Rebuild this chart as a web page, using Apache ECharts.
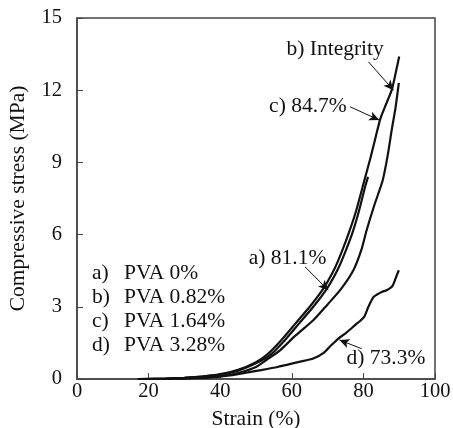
<!DOCTYPE html>
<html>
<head>
<meta charset="utf-8">
<script src="https://cdn.jsdelivr.net/npm/echarts@6/dist/echarts.min.js"></script>
<style>
  html, body { margin: 0; padding: 0; background: #fff; }
  #chart { width: 453px; height: 428px; }
</style>
</head>
<body>
<div id="chart"></div>
<script>
// strain (%) / stress (MPa) pairs
const curveA = [[17,0],[25,0.02],[30,0.05],[35,0.1],[40,0.18],[45,0.35],[50,0.65],[54,1.0],[58,1.6],[62,2.3],[66,3.0],[70,3.8],[73,4.6],[75,5.3],[77,6.1],[78.8,7.0],[80.5,8.0],[81.3,8.4]]
const curveB = [[17,0],[30,0.03],[40,0.12],[45,0.25],[50,0.5],[53,0.8],[56.7,1.19],[61,1.8],[66,2.44],[70,3.1],[73.5,3.69],[77.2,4.52],[79.5,5.4],[80.9,6.18],[83,7.2],[85.4,8.26],[86.8,9.3],[87.9,10.34],[89,11.3],[89.9,12.3]]
const curveC = [[17,0],[25,0.02],[30,0.05],[35,0.1],[40,0.2],[45,0.38],[50,0.7],[53,1.0],[57,1.6],[61,2.3],[65,3.0],[69,3.8],[72,4.6],[74,5.3],[76,6.1],[78,7.0],[80,8.1],[82,9.2],[83.5,10.1],[84.7,10.8],[86,11.3],[87.9,12.0],[89,12.7],[90,13.4]]
const curveD = [[17,0],[30,0.02],[40,0.1],[45,0.2],[51,0.36],[56,0.5],[62,0.71],[66,0.85],[69,1.1],[71,1.4],[73,1.68],[75,1.9],[77,2.15],[78.1,2.3],[79,2.4],[80.3,2.6],[81.4,3.0],[82.8,3.4],[83.7,3.5],[85.1,3.62],[86.5,3.69],[87.9,3.83],[88.4,3.95],[88.8,4.1],[89.3,4.3],[89.9,4.52]]

const legendKeys = ['a)', 'b)', 'c)', 'd)']
const legendNames = ['PVA 0%', 'PVA 0.82%', 'PVA 1.64%', 'PVA 3.28%']

// annotation text, its centre, and the arrow (from -> to), in data units
const notes = [
  { text: 'b) Integrity', at: [72.1, 13.7], from: [81.4, 13.18], to: [88.4, 12.0] },
  { text: 'c) 84.7%', at: [64.5, 11.33], from: [76.3, 11.31], to: [84.4, 10.76] },
  { text: 'a) 81.1%', at: [58.8, 5.0], from: [63.7, 4.66], to: [70.2, 3.69] },
  { text: 'd) 73.3%', at: [86.3, 0.86], from: [79.5, 1.26], to: [73.3, 1.62] }
]

const font = 'Liberation Serif'
const ink = '#111'
const big = 21.5
const chart = echarts.init(document.getElementById('chart'))

const lineSeries = (name, data) => ({
  name,
  type: 'line',
  data,
  showSymbol: false,
  smooth: 0.2,
  lineStyle: { color: ink, width: 2.2 },
  z: 3
})

const series = [
  lineSeries('a', curveA),
  lineSeries('b', curveB),
  lineSeries('c', curveC),
  lineSeries('d', curveD)
]

series[3].markLine = {
  silent: true,
  symbol: ['none', 'arrow'],
  symbolSize: [7, 10],
  lineStyle: { color: ink, width: 1, type: 'solid' },
  label: { show: false },
  data: notes.map(n => [{ coord: n.from }, { coord: n.to }])
}
series[3].markPoint = {
  silent: true,
  symbol: 'circle',
  symbolSize: 1,
  itemStyle: { color: 'rgba(0,0,0,0)' },
  label: {
    show: true,
    position: 'inside',
    color: ink,
    fontSize: big,
    fontFamily: font,
    formatter: p => p.name
  },
  data: notes.map(n => ({ name: n.text, coord: n.at }))
}

const legendGraphics = []
legendKeys.forEach((k, i) => {
  legendGraphics.push({
    type: 'text', left: 92, top: 262 + i * 24,
    style: { text: k, font: big + 'px ' + font, fill: ink }
  })
  legendGraphics.push({
    type: 'text', left: 124, top: 262 + i * 24,
    style: { text: legendNames[i], font: big + 'px ' + font, fill: ink }
  })
})

const option = {
  animation: false,
  grid: {
    left: 77, right: 18, top: 18, bottom: 49,
    outerBoundsMode: 'none',
    containLabel: false,
    show: true, borderColor: '#444', borderWidth: 1.5
  },
  xAxis: {
    type: 'value',
    min: 0, max: 100, interval: 20,
    name: 'Strain (%)',
    nameLocation: 'middle',
    nameGap: 29,
    nameTextStyle: { fontSize: big, fontFamily: font, color: ink },
    axisLine: { lineStyle: { color: '#444', width: 1.5 } },
    axisTick: { inside: true, length: 6, lineStyle: { color: '#444' } },
    axisLabel: { fontSize: 20.5, fontFamily: font, color: ink, margin: 2 },
    splitLine: { show: false }
  },
  yAxis: {
    type: 'value',
    min: 0, max: 15, interval: 3,
    name: 'Compressive stress (MPa)',
    nameLocation: 'middle',
    nameGap: 48,
    nameTextStyle: { fontSize: big, fontFamily: font, color: ink },
    axisLine: { lineStyle: { color: '#444', width: 1.5 } },
    axisTick: { inside: true, length: 6, lineStyle: { color: '#444' } },
    axisLabel: { fontSize: 20.5, fontFamily: font, color: ink, margin: 15 },
    splitLine: { show: false }
  },
  graphic: legendGraphics,
  series
}

chart.setOption(option)
</script>
</body>
</html>
